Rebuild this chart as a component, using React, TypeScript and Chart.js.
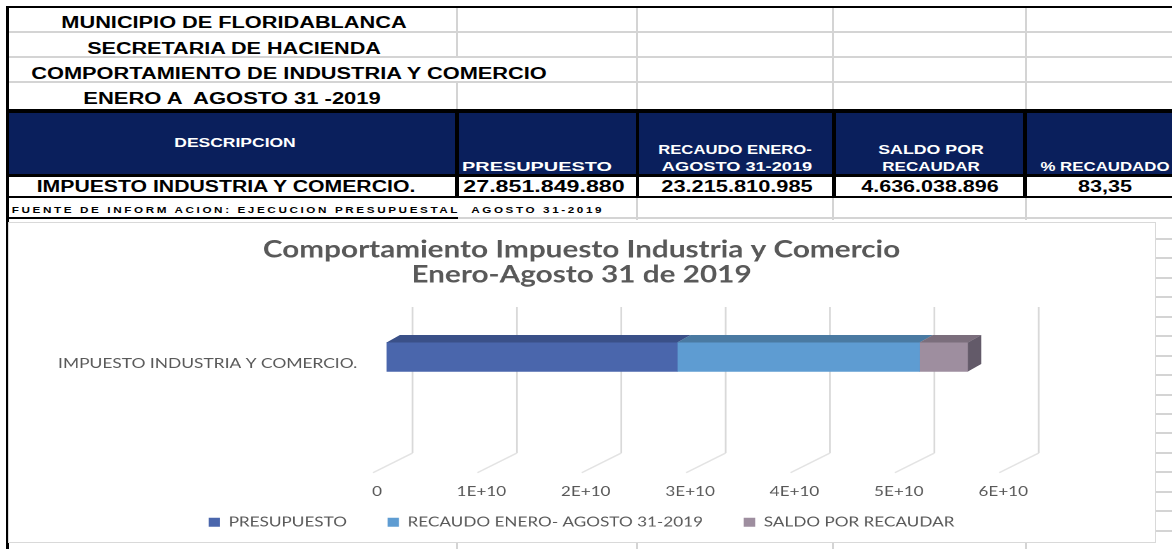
import React, { useEffect, useRef } from "react";
import { Chart, registerables } from "chart.js";

Chart.register(...registerables);

// ---------- data ----------
const categories = ["IMPUESTO INDUSTRIA Y COMERCIO."];
const seriesLabels = ["PRESUPUESTO", "RECAUDO ENERO- AGOSTO 31-2019", "SALDO POR RECAUDAR"];
const presupuesto = [27851849880];
const recaudo = [23215810985];
const saldo = [4636038896];
const pctRecaudado = ["83,35"];
const xMin = 0;
const xMax = 60000000000;
const xStep = 10000000000;

const titleLines = ["Comportamiento Impuesto Industria y Comercio", "Enero-Agosto 31 de 2019"];
const headerLines = [
  "MUNICIPIO DE FLORIDABLANCA",
  "SECRETARIA DE HACIENDA",
  "COMPORTAMIENTO DE INDUSTRIA Y COMERCIO",
  "ENERO A  AGOSTO 31 -2019",
];
const fuente = "FUENTE DE INFORM ACION: EJECUCION PRESUPUESTAL  AGOSTO 31-2019";

// ---------- style ----------
const frontColors = ["#4A66AC", "#5E9CD2", "#9E8E9F"];
const topColors = ["#3A5088", "#4A7AA2", "#7B6E7C"];
const sideColor = "#635A69";
const textGray = "#595959";
const navy = "#0A1F5C";
const sheetLine = "#D4D4D4";
const STRETCH = 1147 / 903;

function fmtDots(n: number): string {
  const s = Math.round(n).toString();
  return s.replace(/\B(?=(\d{3})+(?!\d))/g, ".");
}

function fmtExp(v: number): string {
  if (v === 0) return "0";
  const e = Math.floor(Math.log10(Math.abs(v)));
  const m = v / Math.pow(10, e);
  return `${Math.round(m * 100) / 100}E+${e}`;
}

// Text stretched horizontally to a target width (the reference is a stretched screenshot)
function Txt(props: {
  t: string;
  cx: number;
  cy: number;
  w: number;
  size: number;
  color?: string;
  ls?: number;
}) {
  const ref = useRef<HTMLDivElement>(null);
  useEffect(() => {
    const el = ref.current;
    if (!el) return;
    const nat = el.offsetWidth;
    const k = nat > 0 ? props.w / nat : 1;
    el.style.transform = `translate(-50%, -50%) scaleX(${k})`;
  });
  return (
    <div
      ref={ref}
      style={{
        position: "absolute",
        left: props.cx,
        top: props.cy,
        transform: "translate(-50%, -50%)",
        whiteSpace: "pre",
        fontFamily: '"Liberation Sans", Arial, sans-serif',
        fontWeight: "bold",
        fontSize: props.size,
        lineHeight: `${props.size}px`,
        color: props.color || "#000",
        letterSpacing: props.ls ? `${props.ls}px` : undefined,
      }}
    >
      {props.t}
    </div>
  );
}

function Box(p: { x: number; y: number; w: number; h: number; c: string }) {
  return (
    <div
      style={{ position: "absolute", left: p.x, top: p.y, width: p.w, height: p.h, background: p.c }}
    />
  );
}

const depthPlugin = {
  id: "depth3d",
  beforeDraw(chart: any) {
    // let the x tick labels sit below the axis box (they share the band with the legend)
    const xs = chart.scales.x;
    if (xs) xs._computeLabelArea = () => undefined;
  },
  beforeDatasetsDraw(chart: any) {
    const { ctx, chartArea } = chart;
    const xs = chart.scales.x;
    ctx.save();
    ctx.lineWidth = 1.4;
    for (const tick of xs.ticks) {
      const fx = xs.getPixelForValue(tick.value);
      const bx = fx + 20.5;
      const top = chartArea.top;
      const bot = chartArea.top + 146;
      ctx.strokeStyle = "#D9D9D9";
      ctx.beginPath();
      ctx.moveTo(bx, top);
      ctx.lineTo(bx, bot);
      ctx.stroke();
      ctx.strokeStyle = "#E3E3E3";
      ctx.beginPath();
      ctx.moveTo(bx, bot);
      ctx.lineTo(fx - 10.6, bot + 19.7);
      ctx.stroke();
    }
    ctx.restore();
  },
  afterDatasetsDraw(chart: any) {
    const { ctx } = chart;
    const dx = 10.5;
    const dy = -7.5;
    const n = chart.data.datasets.length;
    ctx.save();
    for (let d = 0; d < n; d++) {
      const meta = chart.getDatasetMeta(d);
      meta.data.forEach((el: any) => {
        const h = el.height;
        const top = el.y - h / 2;
        const bottom = el.y + h / 2;
        const x0 = Math.min(el.base, el.x);
        const x1 = Math.max(el.base, el.x);
        ctx.fillStyle = topColors[d];
        ctx.beginPath();
        ctx.moveTo(x0, top);
        ctx.lineTo(x1, top);
        ctx.lineTo(x1 + dx, top + dy);
        ctx.lineTo(x0 + dx, top + dy);
        ctx.closePath();
        ctx.fill();
        if (d === n - 1) {
          ctx.fillStyle = sideColor;
          ctx.beginPath();
          ctx.moveTo(x1, top);
          ctx.lineTo(x1 + dx, top + dy);
          ctx.lineTo(x1 + dx, bottom + dy);
          ctx.lineTo(x1, bottom);
          ctx.closePath();
          ctx.fill();
        }
      });
    }
    ctx.restore();
  },
};

function ChartPanel() {
  const canvasRef = useRef<HTMLCanvasElement>(null);
  useEffect(() => {
    if (!canvasRef.current) return;
    const values = [presupuesto, recaudo, saldo];
    const chart = new Chart(canvasRef.current, {
      type: "bar",
      data: {
        labels: categories,
        datasets: seriesLabels.map((label, i) => ({
          label,
          data: values[i],
          backgroundColor: frontColors[i],
          borderWidth: 0,
          barThickness: 29,
          yAxisID: "y",
        })),
      },
      options: {
        animation: false,
        responsive: true,
        maintainAspectRatio: false,
        devicePixelRatio: 2,
        indexAxis: "y",
        layout: { padding: { left: 0, right: 0, top: 0, bottom: 3 } },
        plugins: {
          title: {
            display: true,
            text: titleLines,
            color: textGray,
            font: { family: "Lato", size: 23.4, weight: "bold", lineHeight: 25 / 23.4 },
            padding: { top: 14.5, bottom: 19.5 },
          },
          legend: {
            position: "bottom",
            labels: {
              boxWidth: 9,
              boxHeight: 9,
              padding: 32,
              color: textGray,
              font: { family: "Lato", size: 13.5 },
            },
          },
          tooltip: { enabled: false },
        },
        scales: {
          x: {
            stacked: true,
            min: xMin,
            max: xMax,
            ticks: {
              stepSize: xStep,
              callback: (v: any) => fmtExp(Number(v)),
              color: textGray,
              font: { family: "Lato", size: 13.5 },
              padding: 68.5,
              labelOffset: -7.5,
              maxRotation: 0,
            },
            grid: { display: false },
            border: { display: false },
            afterFit: (s: any) => {
              s.height = 76.6;
            },
          },
          y: {
            stacked: true,
            ticks: {
              color: textGray,
              font: { family: "Lato", size: 13.7 },
              padding: 15,
              labelOffset: 6.5,
            },
            grid: { display: false },
            border: { display: false },
            afterFit: (s: any) => {
              s.width = 298;
            },
          },
          yRight: {
            type: "linear",
            position: "right",
            display: true,
            ticks: { display: false },
            grid: { display: false },
            border: { display: false },
            afterFit: (s: any) => {
              s.width = 112;
            },
          },
        },
      } as any,
      plugins: [depthPlugin],
    });
    return () => chart.destroy();
  }, []);
  return (
    <div
      style={{
        position: "absolute",
        left: 8,
        top: 223,
        width: 903,
        height: 319,
        transform: `scaleX(${STRETCH})`,
        transformOrigin: "0 0",
      }}
    >
      <canvas ref={canvasRef} />
    </div>
  );
}

export default function App() {
  const colLines = [457, 637, 833, 1026];
  const rightRows: number[] = [];
  for (let y = 239; y < 545; y += 19.45) rightRows.push(y);
  const dataValues = [fmtDots(presupuesto[0]), fmtDots(recaudo[0]), fmtDots(saldo[0]), pctRecaudado[0]];
  const dataCx = [543.5, 736.5, 929.5, 1105];
  const dataW = [161, 151, 137, 54];
  return (
    <div
      style={{
        position: "absolute",
        left: 0,
        top: 0,
        width: 1172,
        height: 549,
        overflow: "hidden",
        background: "#fff",
      }}
    >
      {/* spreadsheet grid, top rows */}
      {[32, 57, 82].map((y) => (
        <Box key={"h" + y} x={8} y={y - 1} w={1164} h={2} c={sheetLine} />
      ))}
      {colLines.map((x) => (
        <React.Fragment key={"v" + x}>
          {x === 457 ? (
            <>
              <Box x={x - 1} y={8} w={2} h={49} c={sheetLine} />
              <Box x={x - 1} y={82} w={2} h={28} c={sheetLine} />
            </>
          ) : (
            <Box x={x - 1} y={8} w={2} h={102} c={sheetLine} />
          )}
          {x !== 457 && <Box x={x - 1} y={198} w={2} h={22} c={sheetLine} />}
          <Box x={x - 1} y={543} w={2} h={10} c={sheetLine} />
        </React.Fragment>
      ))}
      <Box x={457} y={217} w={715} h={2} c={sheetLine} />
      {rightRows.map((y) => (
        <Box key={"r" + y} x={1156} y={Math.round(y) - 1} w={16} h={2} c={sheetLine} />
      ))}

      {/* header block */}
      <Box x={6} y={109} w={1166} h={68} c="#000" />
      <Box x={9} y={113} w={446} h={61} c={navy} />
      <Box x={459} y={113} w={177} h={61} c={navy} />
      <Box x={639} y={113} w={193} h={61} c={navy} />
      <Box x={836} y={113} w={187} h={61} c={navy} />
      <Box x={1027} y={113} w={145} h={61} c={navy} />
      {/* data row */}
      <Box x={6} y={177} w={1166} h={21} c="#000" />
      <Box x={9} y={177} w={446} h={19} c="#fff" />
      <Box x={459} y={177} w={177} h={19} c="#fff" />
      <Box x={639} y={177} w={193} h={19} c="#fff" />
      <Box x={836} y={177} w={187} h={19} c="#fff" />
      <Box x={1027} y={177} w={145} h={19} c="#fff" />
      {/* fuente row box */}
      <Box x={6} y={217} w={452} h={2} c="#000" />

      {/* outer black borders */}
      <Box x={6} y={6} w={1166} h={2} c="#000" />
      <Box x={6} y={6} w={3} h={543} c="#000" />

      {/* texts */}
      <Txt t={headerLines[0]} cx={234} cy={22.5} w={345} size={16} />
      <Txt t={headerLines[1]} cx={234} cy={49} w={294} size={16} />
      <Txt t={headerLines[2]} cx={289} cy={74} w={516} size={16} />
      <Txt t={headerLines[3]} cx={232} cy={99} w={298} size={16} />

      <Txt t="DESCRIPCION" cx={234.5} cy={142.5} w={121} size={12} color="#fff" />
      <Txt t="PRESUPUESTO" cx={536.5} cy={166.5} w={149} size={12} color="#fff" />
      <Txt t="RECAUDO ENERO-" cx={735} cy={149.5} w={154} size={12} color="#fff" />
      <Txt t="AGOSTO 31-2019" cx={737} cy={166.5} w={150} size={12} color="#fff" />
      <Txt t="SALDO POR" cx={930.5} cy={149.5} w={105} size={12} color="#fff" />
      <Txt t="RECAUDAR" cx={931} cy={166.5} w={98} size={12} color="#fff" />
      <Txt t="% RECAUDADO" cx={1104.5} cy={166.5} w={129} size={12} color="#fff" />

      <Txt t={categories[0]} cx={225.5} cy={186.5} w={379} size={16} />
      {dataValues.map((v, i) => (
        <Txt key={"d" + i} t={v} cx={dataCx[i]} cy={186.5} w={dataW[i]} size={16} />
      ))}
      <Txt t={fuente} cx={307.8} cy={210} w={592.5} size={9} ls={2} />

      {/* chart frame */}
      <div
        style={{
          position: "absolute",
          left: 8,
          top: 222,
          width: 1146,
          height: 319,
          border: "1.5px solid #D9D9D9",
          background: "#fff",
        }}
      />
      <ChartPanel />
    </div>
  );
}
